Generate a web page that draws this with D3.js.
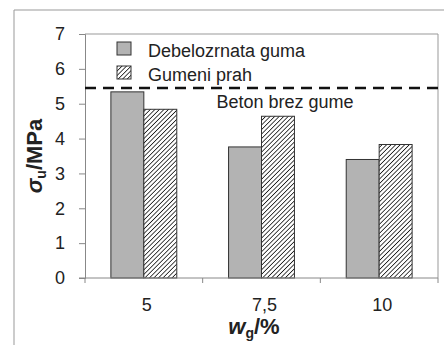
<!DOCTYPE html>
<html>
<head>
<meta charset="utf-8">
<script src="https://cdn.jsdelivr.net/npm/d3@7"></script>
<style>
  html, body { margin: 0; padding: 0; background: #fff; }
  svg { display: block; font-family: "Liberation Sans", Arial, sans-serif; }
</style>
</head>
<body>
<svg id="chart" width="444" height="355"></svg>
<script>
// Rubber content (mass %) on the x axis
const categories = ["5", "7,5", "10"];
// Compressive strength, MPa
const coarseRubber = [5.34, 3.76, 3.40];   // Debelozrnata guma
const rubberPowder = [4.84, 4.64, 3.83];   // Gumeni prah
const referenceConcrete = 5.45;            // Beton brez gume
const yTicks = [0, 1, 2, 3, 4, 5, 6, 7];
const seriesNames = ["Debelozrnata guma", "Gumeni prah"];

const svg = d3.select("#chart");
const margin = { left: 85, right: 6, top: 34, bottom: 77 };
const W = 444, H = 355;
const plotW = W - margin.left - margin.right;
const plotH = H - margin.top - margin.bottom;

const defs = svg.append("defs");
const hatch = defs.append("pattern")
  .attr("id", "hatch")
  .attr("patternUnits", "userSpaceOnUse")
  .attr("width", 3.2).attr("height", 3.2)
  .attr("patternTransform", "rotate(45)");
hatch.append("rect").attr("width", 3.2).attr("height", 3.2).attr("fill", "#fff");
hatch.append("line").attr("x1", 0).attr("y1", 0).attr("x2", 0).attr("y2", 3.2)
  .attr("stroke", "#1a1a1a").attr("stroke-width", 1.6);

// outer frame (top and left edges)
svg.append("path").attr("d", "M14,345 V10 H444")
  .attr("fill", "none").attr("stroke", "#999").attr("stroke-width", 1);

const g = svg.append("g").attr("transform", `translate(${margin.left},${margin.top})`);

const x = d3.scaleBand().domain(categories).range([0, plotW]).paddingInner(0).paddingOuter(0);
const y = d3.scaleLinear().domain([0, 7]).range([plotH, 0]);
const barW = x.bandwidth() * 0.28;

// plot border (top + right)
g.append("path").attr("d", `M0,0 H${plotW} V${plotH}`)
  .attr("fill", "none").attr("stroke", "#999").attr("stroke-width", 1);

// y axis
const yAxis = g.append("g")
  .call(d3.axisLeft(y).tickValues(yTicks).tickFormat(d3.format("d")).tickSize(6).tickPadding(14));
yAxis.select(".domain").attr("stroke", "#888");
yAxis.selectAll(".tick line").attr("stroke", "#888");
yAxis.selectAll("text").attr("font-size", 18).attr("fill", "#222");

// bars
const cx = c => x(c) + x.bandwidth() / 2;
g.selectAll(".bar-coarse").data(categories).join("rect")
  .attr("x", c => cx(c) - barW)
  .attr("y", (c, i) => y(coarseRubber[i]))
  .attr("width", barW)
  .attr("height", (c, i) => plotH - y(coarseRubber[i]))
  .attr("fill", "#b3b3b3").attr("stroke", "#333").attr("stroke-width", 1);
g.selectAll(".bar-powder").data(categories).join("rect")
  .attr("x", c => cx(c))
  .attr("y", (c, i) => y(rubberPowder[i]))
  .attr("width", barW)
  .attr("height", (c, i) => plotH - y(rubberPowder[i]))
  .attr("fill", "url(#hatch)").attr("stroke", "#333").attr("stroke-width", 1);

// x axis
const xAxis = g.append("g").attr("transform", `translate(0,${plotH})`)
  .call(d3.axisBottom(x).tickSize(0).tickPadding(20));
xAxis.select(".domain").remove();
xAxis.selectAll("text").attr("font-size", 18).attr("fill", "#222").attr("dx", 3);
g.append("line").attr("x1", -6).attr("x2", plotW).attr("y1", plotH).attr("y2", plotH)
  .attr("stroke", "#888");
g.selectAll(".xsep").data(d3.range(categories.length + 1)).join("line")
  .attr("x1", i => i * x.step()).attr("x2", i => i * x.step())
  .attr("y1", plotH).attr("y2", plotH + 5).attr("stroke", "#888");

// reference concrete line
g.append("line").attr("x1", 0).attr("x2", plotW)
  .attr("y1", y(referenceConcrete)).attr("y2", y(referenceConcrete))
  .attr("stroke", "#111").attr("stroke-width", 2.6).attr("stroke-dasharray", "11,7");
g.append("text").attr("x", 131.5).attr("y", y(referenceConcrete) + 20)
  .attr("font-size", 18).attr("fill", "#222").text("Beton brez gume");

// legend
const legend = g.append("g").attr("transform", "translate(32,8)");
const fills = ["#b3b3b3", "url(#hatch)"];
seriesNames.forEach((name, i) => {
  const row = legend.append("g").attr("transform", `translate(0,${i * 24})`);
  row.append("rect").attr("width", 14).attr("height", 13)
    .attr("fill", fills[i]).attr("stroke", "#333").attr("stroke-width", 1);
  row.append("text").attr("x", 31).attr("y", 15).attr("font-size", 18).attr("fill", "#222").text(name);
});

// axis titles
svg.append("text")
  .attr("transform", "translate(42,156) rotate(-90)")
  .attr("text-anchor", "middle").attr("font-size", 22).attr("font-weight", "bold").attr("fill", "#222")
  .call(t => {
    t.append("tspan").attr("font-style", "italic").text("σ");
    t.append("tspan").attr("font-size", 14).attr("dy", 4).text("u");
    t.append("tspan").attr("dy", -4).text("/MPa");
  });
svg.append("text")
  .attr("x", 254).attr("y", 334)
  .attr("text-anchor", "middle").attr("font-size", 22).attr("font-weight", "bold").attr("fill", "#222")
  .call(t => {
    t.append("tspan").attr("font-style", "italic").text("w");
    t.append("tspan").attr("font-size", 14).attr("dy", 4).text("g");
    t.append("tspan").attr("dy", -4).text("/%");
  });
</script>
</body>
</html>
